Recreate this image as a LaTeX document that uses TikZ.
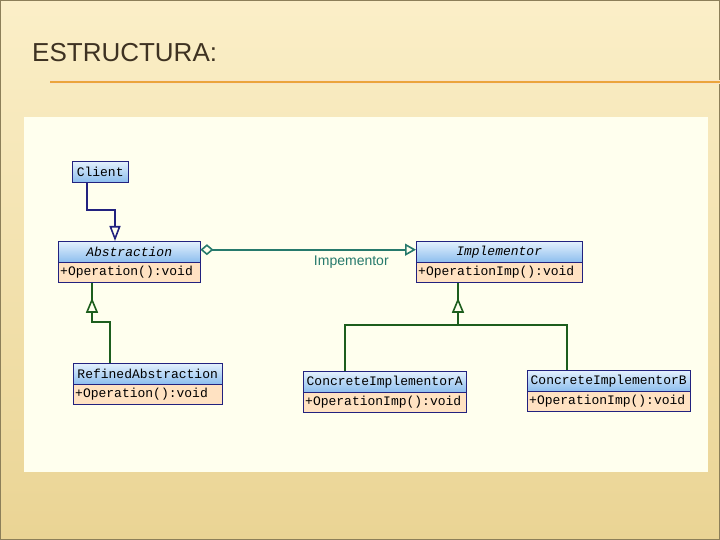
\documentclass[tikz,border=0pt]{standalone}
\usepackage{fontspec}
\setmainfont{Liberation Sans}
\newfontfamily\umlfont{Liberation Mono}
\usetikzlibrary{arrows.meta, positioning, calc}
\definecolor{bgtop}{HTML}{FBEFC8}
\definecolor{bgbot}{HTML}{EAD494}
\definecolor{cpanel}{HTML}{FFFFEE}
\definecolor{ctitle}{HTML}{3E3222}
\definecolor{corange}{HTML}{EBA53C}
\definecolor{cnavy}{HTML}{22227F}
\definecolor{headtop}{HTML}{E4F1FD}
\definecolor{headbot}{HTML}{8DBEEE}
\definecolor{cpeach}{HTML}{FFE2C2}
\definecolor{cteal}{HTML}{267A6C}
\definecolor{cgreen}{HTML}{1D5E1D}

\tikzset{
  clshead/.style={draw=cnavy, top color=headtop, bottom color=headbot, anchor=north west,
    minimum width=#1, minimum height=21pt, inner sep=0pt,
    font=\umlfont\fontsize{13}{14}\selectfont},
  clsop/.style={draw=cnavy, fill=cpeach, anchor=north west, text width=#1, align=left,
    minimum height=20pt, inner xsep=2pt, inner ysep=0pt,
    font=\umlfont\fontsize{13}{14}\selectfont},
  depline/.style={draw=cnavy, line width=2pt},
  assocline/.style={draw=cteal, line width=2pt},
  genline/.style={draw=cgreen, line width=2pt},
  gentip/.style={-{Triangle[fill=cpanel, length=15pt, width=12pt, line width=1.6pt]}, shorten >=15pt}
}

\begin{document}
\begin{tikzpicture}[x=1pt, y=-1pt]
  \useasboundingbox (0,0) rectangle (720,540);
  % slide
  \shade[top color=bgtop, bottom color=bgbot] (0,0) rectangle (720,540);
  \draw[color=bgbot!60!black, line width=0.8pt] (0.4,0.4) rectangle (719.6,539.6);
  \node[font=\fontsize{26}{28}\selectfont, text=ctitle, anchor=base west, inner sep=0pt] (title) at (32,62) {ESTRUCTURA:};
  \draw[corange!30, line width=3.5pt] (50,82) -- (720,82);
  \draw[corange, line width=1.2pt] (50,82) -- (720,82);
  \fill[cpanel] (24,117) rectangle (708,472);

  % classes
  \node[clshead=56pt] (client) at (72,161) {Client};

  \node[clshead=142pt] (abst) at (58,241) {\itshape Abstraction};
  \node[clsop=138pt] (abstop) at (abst.south west) {+Operation():void};

  \node[clshead=166pt] (impl) at (416,241) {\itshape Implementor};
  \node[clsop=162pt] (implop) at (impl.south west) {+OperationImp():void};

  \node[clshead=149pt] (refined) at (73,363) {RefinedAbstraction};
  \node[clsop=145pt] (refinedop) at (refined.south west) {+Operation():void};

  \node[clshead=163pt] (cimpa) at (303,371) {ConcreteImplementorA};
  \node[clsop=159pt] (cimpaop) at (cimpa.south west) {+OperationImp():void};

  \node[clshead=163pt] (cimpb) at (527,370) {ConcreteImplementorB};
  \node[clsop=159pt] (cimpbop) at (cimpb.south west) {+OperationImp():void};

  % connectors
  \draw[depline, -{Triangle[open, length=15pt, width=11pt, line width=1.6pt]}]
    ([xshift=15pt]client.south west) -- ++(0,28) -| ([xshift=57pt]abst.north west);

  \draw[assocline, {Diamond[open, length=13pt, width=11pt, line width=1.6pt]}-{Triangle[open, length=11pt, width=12pt, line width=1.6pt]}]
    ([yshift=2pt]abst.east) -- node[pos=0.7, below=2pt, font=\fontsize{14}{16}\selectfont, text=cteal] (assoclbl) {Impementor} ([yshift=2pt]impl.west);

  \coordinate (refbend) at (110,322);
  \coordinate (abstfoot) at ([xshift=34pt]abstop.south west);
  \draw[genline] ([xshift=37pt]refined.north west) -- (refbend) -| (abstfoot);
  \draw[genline, gentip] (refbend -| abstfoot) -- (abstfoot);

  \coordinate (bus) at (458,325);
  \coordinate (implfoot) at ([xshift=42pt]implop.south west);
  \draw[genline] ([xshift=42pt]cimpa.north west) |- (bus) -| ([xshift=40pt]cimpb.north west);
  \draw[genline] (bus) -- (implfoot);
  \draw[genline, gentip] (bus) -- (implfoot);
\end{tikzpicture}
\end{document}
